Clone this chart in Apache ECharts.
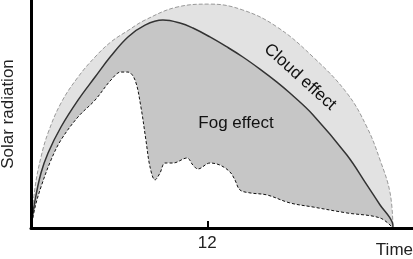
<!DOCTYPE html>
<html>
<head>
<meta charset="utf-8">
<script src="https://cdn.jsdelivr.net/npm/echarts@6/dist/echarts.min.js"></script>
<style>
  html, body { margin: 0; padding: 0; background: #fff; }
  #chart { width: 413px; height: 259px; }
</style>
</head>
<body>
<div id="chart"></div>
<script>
// clear-sky envelope (dashed outer curve)
var clearHours = [6.0, 6.14, 6.34, 6.58, 7.02, 7.6, 8.18, 8.72, 9.3, 9.88, 10.97, 12.09, 13.21, 14.37, 15.6, 16.75, 17.43, 17.88, 18.22, 18.32];
var clearValues = [0, 18.0, 31.1, 41.7, 54.8, 66.2, 75.0, 81.6, 86.6, 91.2, 96.9, 98.2, 95.6, 88.2, 75.0, 59.2, 44.3, 29.8, 15.4, 0];

// cloudy day (solid curve)
var cloudHours = [6.0, 6.14, 6.34, 6.58, 7.02, 7.6, 8.18, 8.72, 9.3, 9.88, 10.49, 11.07, 11.51, 12.09, 12.67, 13.21, 13.79, 14.37, 14.81, 15.6, 16.75, 17.43, 17.88, 18.29, 18.32];
var cloudValues = [0, 12.3, 24.1, 32.9, 44.3, 56.1, 66.2, 75.4, 83.8, 89.0, 91.2, 89.9, 87.7, 83.8, 79.4, 75.0, 69.7, 64.0, 59.2, 49.6, 32.0, 18.9, 10.1, 2.6, 0];

// foggy day (dotted inner curve)
var fogHours = [6.0, 6.14, 6.34, 6.68, 7.02, 7.6, 8.18, 8.72, 9.06, 9.3, 9.54, 9.74, 9.91, 10.05, 10.22, 10.39, 10.56, 10.83, 11.31, 11.51, 11.68, 12.09, 12.43, 12.77, 12.94, 13.11, 13.45, 14.03, 14.81, 15.6, 16.75, 17.88, 18.32];
var fogValues = [0, 9.2, 18.0, 29.8, 38.6, 48.7, 56.1, 64.9, 68.4, 68.4, 64.9, 53.1, 38.6, 26.8, 21.1, 24.1, 28.5, 28.5, 30.7, 27.6, 25.9, 28.5, 27.6, 24.6, 21.1, 16.7, 15.4, 14.5, 11.0, 9.2, 6.6, 4.4, 0];

var tickHours = [12];

function pairs(xs, ys) {
  return xs.map(function (x, i) { return [x, ys[i]]; });
}

var chart = echarts.init(document.getElementById("chart"));
chart.setOption({
  animation: false,
  grid: { left: 31, right: 0, top: 0, bottom: 31, outerBoundsMode: "none", containLabel: false },
  xAxis: {
    type: "value",
    min: 6,
    max: 19,
    z: 10,
    name: "Time",
    nameLocation: "end",
    nameGap: 0,
    nameTextStyle: {
      color: "#222",
      fontFamily: "Liberation Sans",
      fontSize: 17,
      align: "right",
      verticalAlign: "top",
      padding: [14, 0, 0, 0],
    },
    splitLine: { show: false },
    axisLine: { show: true, lineStyle: { color: "#000", width: 3 } },
    axisTick: {
      show: true,
      inside: true,
      length: 7,
      customValues: tickHours,
      lineStyle: { color: "#000", width: 2 },
    },
    axisLabel: {
      customValues: tickHours,
      color: "#222",
      fontFamily: "Liberation Sans",
      fontSize: 17,
      margin: 7,
    },
  },
  yAxis: {
    type: "value",
    min: 0,
    max: 100,
    z: 10,
    name: "Solar radiation",
    nameLocation: "middle",
    nameRotate: 90,
    nameGap: 14,
    nameTextStyle: {
      color: "#222",
      fontFamily: "Liberation Sans",
      fontSize: 17,
    },
    splitLine: { show: false },
    axisLine: { show: true, lineStyle: { color: "#000", width: 3 } },
    axisTick: { show: false },
    axisLabel: { show: false },
  },
  series: [
    {
      name: "Clear sky",
      type: "line",
      data: pairs(clearHours, clearValues),
      smooth: 0.4,
      symbol: "none",
      lineStyle: { color: "#999", width: 1, type: [4, 2] },
      areaStyle: { color: "#e2e2e2", opacity: 1 },
    },
    {
      name: "Cloud",
      type: "line",
      data: pairs(cloudHours, cloudValues),
      smooth: 0.4,
      symbol: "none",
      lineStyle: { color: "#333", width: 1.5 },
      areaStyle: { color: "#c6c6c6", opacity: 1 },
    },
    {
      name: "Fog",
      type: "line",
      data: pairs(fogHours, fogValues),
      smooth: 0.35,
      symbol: "none",
      lineStyle: { color: "#111", width: 1, type: [3, 2] },
      areaStyle: { color: "#fff", opacity: 1 },
    },
  ],
  graphic: [
    {
      type: "text",
      x: 300,
      y: 77,
      rotation: (-42 * Math.PI) / 180,
      style: {
        text: "Cloud effect",
        fill: "#111",
        font: "17px Liberation Sans",
        align: "center",
        verticalAlign: "middle",
      },
      z: 20,
    },
    {
      type: "text",
      x: 236,
      y: 123,
      style: {
        text: "Fog effect",
        fill: "#111",
        font: "17px Liberation Sans",
        align: "center",
        verticalAlign: "middle",
      },
      z: 20,
    },
  ],
});
</script>
</body>
</html>
